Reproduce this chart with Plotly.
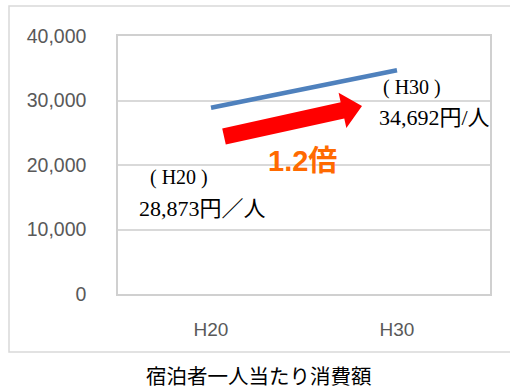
import math
import plotly.graph_objects as go

# ---- data ----
categories = ["H20", "H30"]
values = [28873, 34692]
y_ticks = [0, 10000, 20000, 30000, 40000]
label_h20 = ["(\u00a0H20\u00a0)", "28,873円／人"]
label_h30 = ["(\u00a0H30\u00a0)", "34,692円/人"]
ratio_text = "1.2倍"
caption = "宿泊者一人当たり消費額"

W, H = 510, 389
L, R, T, B = 118, 20, 36, 95
PW, PH = W - L - R, H - T - B


def px(x):
    return (x - L) / PW


def py(y):
    return (T + PH - y) / PH


fig = go.Figure()
fig.add_trace(go.Scatter(
    x=categories, y=values, mode="lines",
    line=dict(color="#4F81BD", width=4.5),
    hoverinfo="skip", showlegend=False,
))

# ---- decorative red arrow (pixel geometry) ----
tail = (224.0, 136.5)
tip = (362.0, 106.0)
hw, HW, hl = 8.3, 18.0, 20.0
dx, dy = tip[0] - tail[0], tip[1] - tail[1]
d = math.hypot(dx, dy)
ux, uy = dx / d, dy / d
nx, ny = -uy, ux
bx, by = tip[0] - ux * hl, tip[1] - uy * hl
pts = [
    (tail[0] + nx * hw, tail[1] + ny * hw),
    (bx + nx * hw, by + ny * hw),
    (bx + nx * HW, by + ny * HW),
    tip,
    (bx - nx * HW, by - ny * HW),
    (bx - nx * hw, by - ny * hw),
    (tail[0] - nx * hw, tail[1] - ny * hw),
]
path = "M " + " L ".join(f"{px(x):.5f},{py(y):.5f}" for x, y in pts) + " Z"
fig.add_shape(type="path", path=path, xref="paper", yref="paper",
              fillcolor="#FF0000", line=dict(width=0), layer="above")

# outer chart-area frame
fig.add_shape(type="rect", xref="paper", yref="paper",
              x0=px(9), x1=px(514), y0=py(352), y1=py(6),
              line=dict(color="#D9D9D9", width=1.5), layer="below")

serif = "'Liberation Serif', 'Times New Roman', 'Noto Sans CJK JP', serif"
ann = [
    dict(text=label_h20[0], x=px(179), y=py(177), size=20, font=serif, color="#000000"),
    dict(text=label_h20[1], x=px(202), y=py(208), size=22, font=serif, color="#000000"),
    dict(text=label_h30[0], x=px(412), y=py(87), size=20, font=serif, color="#000000"),
    dict(text=label_h30[1], x=px(434), y=py(117), size=22, font=serif, color="#000000"),
    dict(text="<b>" + ratio_text + "</b>", x=px(302), y=py(161), size=29,
         font="'Liberation Sans', 'Noto Sans CJK JP', sans-serif", color="#FF6A00"),
    dict(text=caption, x=px(259), y=py(375), size=20.5,
         font="'Noto Sans CJK JP', sans-serif", color="#000000"),
]
for a in ann:
    fig.add_annotation(text=a["text"], x=a["x"], y=a["y"], xref="paper", yref="paper",
                       showarrow=False, xanchor="center", yanchor="middle",
                       font=dict(family=a["font"], size=a["size"], color=a["color"]))

fig.update_layout(
    width=W, height=H,
    margin=dict(l=L, r=R, t=T, b=B),
    paper_bgcolor="white", plot_bgcolor="white",
    showlegend=False,
    xaxis=dict(
        type="category", range=[-0.5, 1.5],
        showgrid=False, showline=True, mirror=True,
        linecolor="#D0D0D0", linewidth=1.5,
        ticks="", ticklabelstandoff=17,
        tickfont=dict(family="Liberation Sans, sans-serif", size=19, color="#595959"),
        zeroline=False,
    ),
    yaxis=dict(
        range=[0, 40000], tickvals=y_ticks, tickformat=",d",
        showgrid=True, gridcolor="#D9D9D9", gridwidth=1.5,
        showline=True, mirror=True, linecolor="#D0D0D0", linewidth=1.5,
        ticks="", ticklabelstandoff=26,
        tickfont=dict(family="Liberation Sans, sans-serif", size=19.5, color="#595959"),
        zeroline=False,
    ),
)

fig.write_html("out.html")
